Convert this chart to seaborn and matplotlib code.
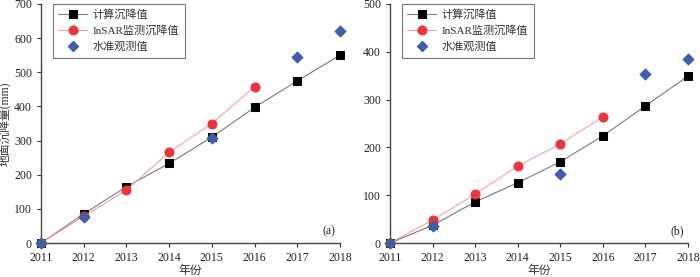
import matplotlib
matplotlib.use("Agg")
import matplotlib.pyplot as plt
from matplotlib.lines import Line2D
import seaborn as sns
import pandas as pd

years = [2011, 2012, 2013, 2014, 2015, 2016, 2017, 2018]
insar_years = [2011, 2012, 2013, 2014, 2015, 2016]
level_years_a = [2011, 2012, 2015, 2017, 2018]
level_years_b = [2011, 2012, 2015, 2017, 2018]

calc_a = [0, 85, 165, 233, 310, 397, 475, 550]
insar_a = [0, 78, 155, 266, 350, 458]
level_a = [0, 75, 308, 545, 620]

calc_b = [0, 37, 86, 126, 170, 224, 287, 349]
insar_b = [0, 48, 102, 161, 207, 264]
level_b = [0, 36, 145, 354, 385]

labels = ["计算沉降值", "InSAR监测沉降值", "水准观测值"]

sns.set_style("ticks")
plt.rcParams['font.family'] = ['Liberation Serif', 'Noto Sans CJK SC']
plt.rcParams['axes.unicode_minus'] = False

fig = plt.figure(figsize=(7, 2.77), dpi=100)
ax1 = fig.add_axes([41/700, 1 - 243/277, 299/700, 239/277])
ax2 = fig.add_axes([390/700, 1 - 243/277, 298/700, 239/277])

panels = [
    (ax1, calc_a, insar_a, level_a, level_years_a, 700, "(a)"),
    (ax2, calc_b, insar_b, level_b, level_years_b, 500, "(b)"),
]

for ax, calc, insar, level, lyears, ymax, tag in panels:
    sns.lineplot(x=years, y=calc, ax=ax, color="#7a7a7a", lw=0.8,
                 marker="s", markersize=5.6, markerfacecolor="black",
                 markeredgecolor="black", zorder=3, clip_on=False)
    l1 = ax.lines[-1]
    sns.lineplot(x=insar_years, y=insar, ax=ax, color="#f4a0a0", lw=0.8,
                 marker="o", markersize=6.5, markerfacecolor="#e8363c",
                 markeredgecolor="#e8363c", zorder=3, clip_on=False)
    l2 = ax.lines[-1]
    df = pd.DataFrame({"year": lyears, "val": level})
    sns.scatterplot(data=df, x="year", y="val", ax=ax, marker="D", s=34,
                    color="#3f5ea8", edgecolor="#3f5ea8", zorder=4,
                    clip_on=False)
    l3 = Line2D([], [], ls="none", marker="D", markersize=5.6,
                markerfacecolor="#3f5ea8", markeredgecolor="#3f5ea8")

    ax.set_xlim(2011, 2018)
    ax.set_ylim(0, ymax)
    ax.set_xticks(years)
    ax.set_yticks(range(0, ymax + 1, 100))
    ax.tick_params(labelsize=8.5, colors="#333333", length=3, width=0.8)
    for s in ["top", "right"]:
        ax.spines[s].set_visible(False)
    for s in ["left", "bottom"]:
        ax.spines[s].set_color("#444444")
        ax.spines[s].set_linewidth(1.0)
    ax.set_xlabel("年份", fontsize=8.5, color="#333333", labelpad=1)
    ax.set_ylabel("")
    ax.text(0.985, 0.05, tag, transform=ax.transAxes, ha="right", va="center",
            fontsize=8.5, color="#222222")
    leg = ax.legend([l1, l2, l3], labels, loc="upper left",
                    bbox_to_anchor=(0.02, 1.025), fontsize=8, frameon=True,
                    fancybox=False, edgecolor="#555555", handlelength=2.6,
                    borderpad=0.5, labelspacing=0.5, handletextpad=0.5)
    leg.get_frame().set_linewidth(0.8)
    for t in leg.get_texts():
        t.set_color("#333333")
    for tl in ax.get_xticklabels() + ax.get_yticklabels():
        tl.set_color("#222222")

ax1.set_ylabel("地面沉降量(mm)", fontsize=8.5, color="#333333", labelpad=2)

fig.savefig("out.png", dpi=100)
